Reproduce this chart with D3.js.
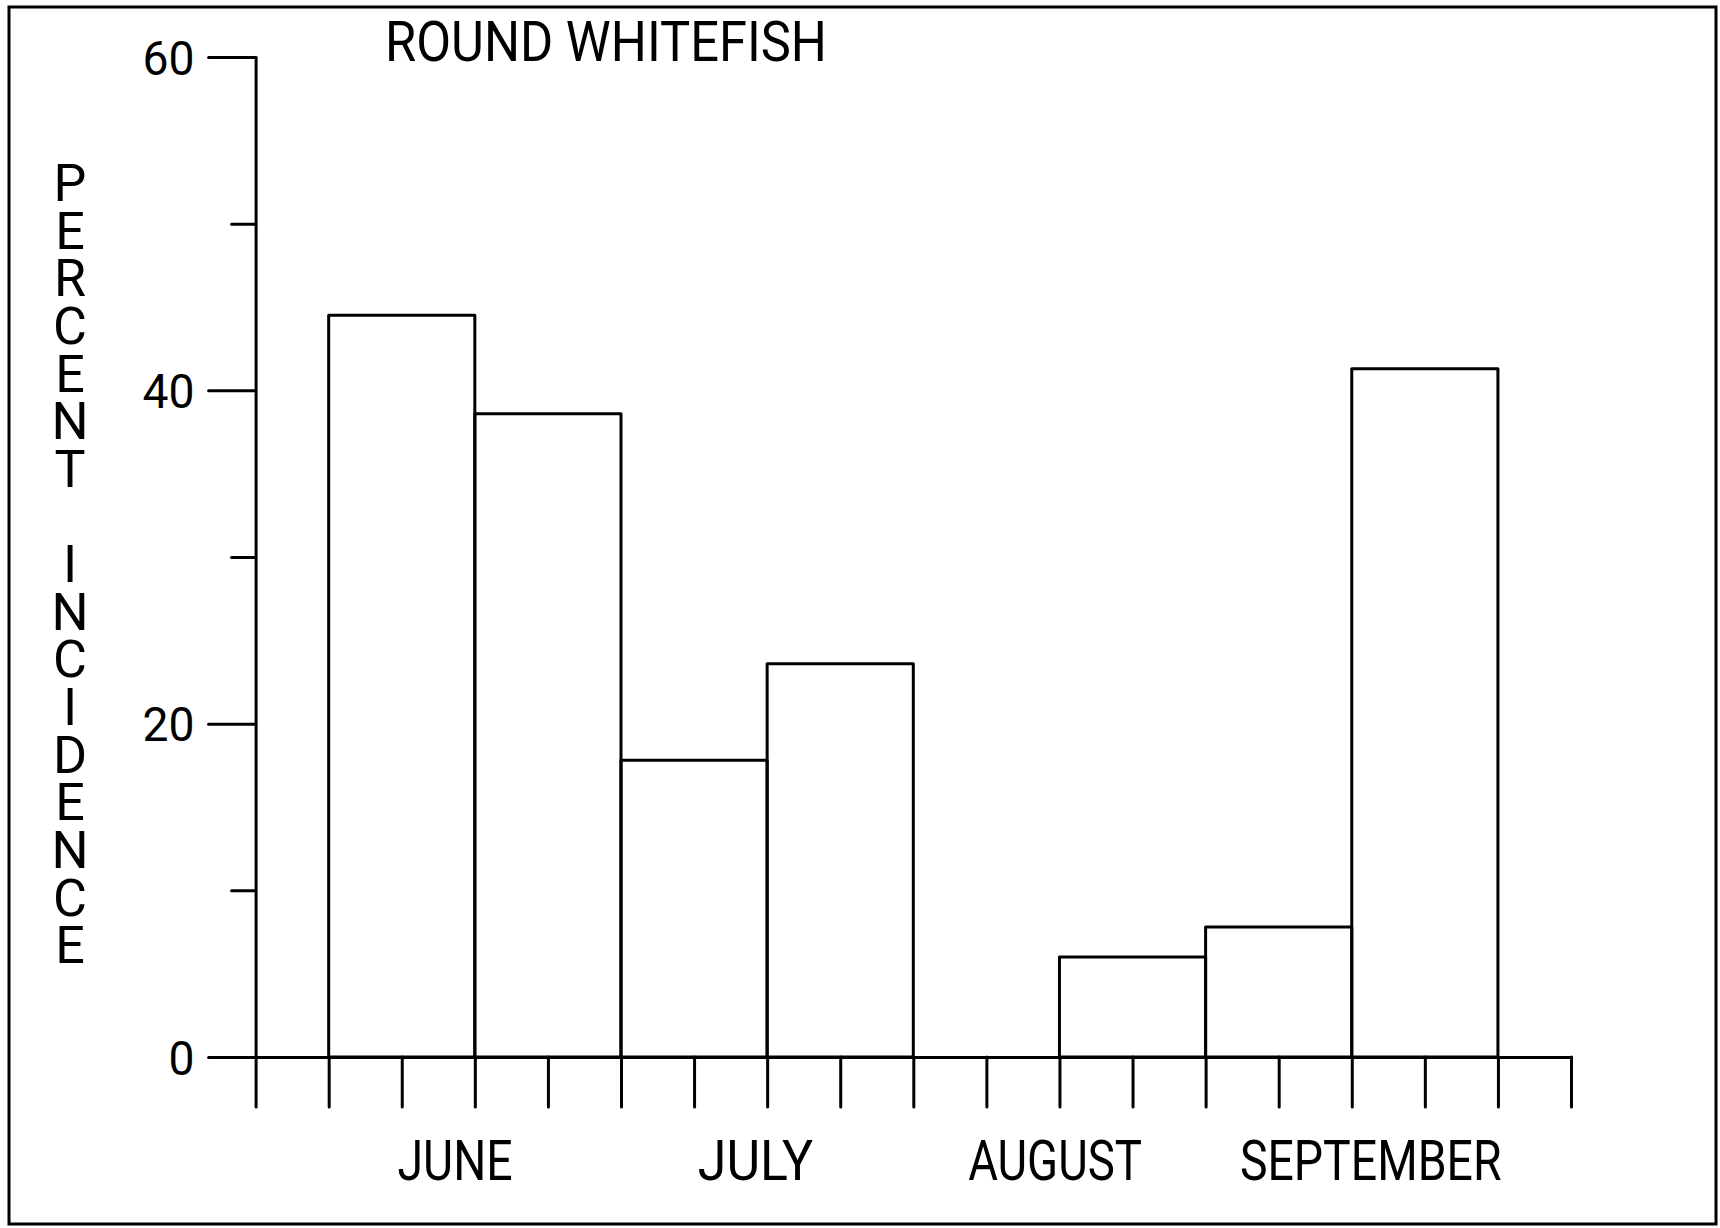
<!DOCTYPE html>
<html>
<head>
<meta charset="utf-8">
<script src="https://cdn.jsdelivr.net/npm/d3@7"></script>
<style>
  html, body { margin: 0; padding: 0; background: #fff; }
  svg { display: block; }
  .axis path, .axis line { stroke: #000; stroke-width: 3px; stroke-linecap: round; }
  text { font-family: Roboto, "DejaVu Sans", sans-serif; font-weight: 400; fill: #000; }
  .vlabel { writing-mode: vertical-rl; text-orientation: upright; }
</style>
</head>
<body>
<svg id="chart" width="1720" height="1228"></svg>
<script>
// ---- data ----
const title = "ROUND WHITEFISH";
const yLabel = "PERCENT INCIDENCE";
const binEdges = [1, 3, 5, 7, 9, 11, 13, 15, 17];          // x-axis units (tick intervals)
const values = [44.5, 38.6, 17.8, 23.6, 0, 6.0, 7.8, 41.3]; // percent incidence
const yMajorTicks = [0, 20, 40, 60];
const yMinorTicks = [10, 30, 50];
const xTicks = d3.range(0, 19);
const monthNames = ["JUNE", "JULY", "AUGUST", "SEPTEMBER"];
const monthPos = [2.73, 6.84, 10.94, 15.26];

// ---- layout ----
const svg = d3.select("#chart");
const x = d3.scaleLinear().domain([0, 18]).range([255.6, 1571]);
const y = d3.scaleLinear().domain([0, 60]).range([1057, 57]);

// frame
svg.append("rect")
  .attr("x", 9).attr("y", 7).attr("width", 1707).attr("height", 1217)
  .attr("fill", "none").attr("stroke", "#000").attr("stroke-width", 3);

// bars (outline only)
const bins = values.map((v, i) => ({ v, x0: binEdges[i], x1: binEdges[i + 1] })).filter(d => d.v > 0);
svg.append("g").selectAll("rect").data(bins).join("rect")
  .attr("x", d => x(d.x0))
  .attr("y", d => y(d.v))
  .attr("width", d => x(d.x1) - x(d.x0))
  .attr("height", d => y(0) - y(d.v))
  .attr("fill", "none").attr("stroke", "#000").attr("stroke-width", 3)
  .attr("stroke-linejoin", "round");

// y minor ticks
svg.append("g").attr("class", "axis").attr("transform", `translate(${x(0)},0)`)
  .call(d3.axisLeft(y).tickValues(yMinorTicks).tickSize(24).tickSizeOuter(0).tickFormat(""))
  .call(g => g.select(".domain").remove());

// y major axis
const yAx = svg.append("g").attr("class", "axis").attr("transform", `translate(${x(0)},0)`)
  .call(d3.axisLeft(y).tickValues(yMajorTicks).tickSize(47).tickSizeOuter(0).tickPadding(14).tickFormat(d3.format("d")));
yAx.selectAll("text")
  .attr("x", -61)
  .attr("dy", null)
  .attr("y", 17)
  .attr("font-size", 48)
  .attr("font-family", null)
  .attr("textLength", d => String(d).length * 26)
  .attr("lengthAdjust", "spacingAndGlyphs");

// x axis
svg.append("g").attr("class", "axis").attr("transform", `translate(0,${y(0)})`)
  .call(d3.axisBottom(x).tickValues(xTicks).tickSize(50).tickSizeOuter(0).tickFormat(""));

// month labels
svg.append("g").selectAll("text").data(monthNames).join("text")
  .attr("x", (d, i) => x(monthPos[i]))
  .attr("y", 1180)
  .attr("text-anchor", "middle")
  .attr("font-size", 55)
  .attr("textLength", d => d.length * 29.3 - 2)
  .attr("lengthAdjust", "spacingAndGlyphs")
  .text(d => d);

// title
svg.append("text")
  .attr("x", 385).attr("y", 61)
  .attr("font-size", 55)
  .attr("textLength", 442)
  .attr("lengthAdjust", "spacingAndGlyphs")
  .text(title);

// vertical y label: upright stacked letters as a single vertical text
svg.append("text")
  .attr("class", "vlabel")
  .attr("x", 70)
  .attr("y", 153)
  .attr("font-size", 52)
  .attr("textLength", 17 * 47.6 + 14)
  .attr("lengthAdjust", "spacing")
  .text(yLabel);
</script>
</body>
</html>
